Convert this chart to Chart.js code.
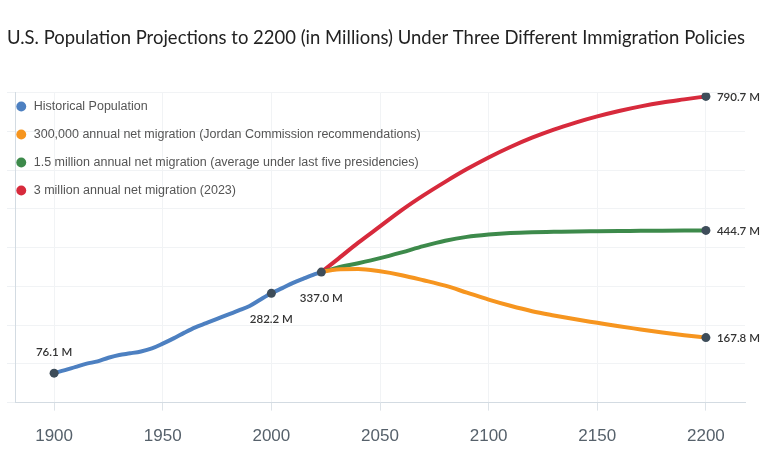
<!DOCTYPE html>
<html>
<head>
<meta charset="utf-8">
<script src="https://cdn.jsdelivr.net/npm/chart.js@4"></script>
<style>
  html, body { margin: 0; padding: 0; background: #fff; }
  #wrap { width: 768px; height: 467px; }
</style>
</head>
<body>
<div id="wrap"><canvas id="popChart"></canvas></div>
<script>
// values (millions)
var histYears  = [1900, 1905, 1910, 1915, 1920, 1925, 1930, 1935, 1940, 1945, 1950, 1955, 1960,
                  1965, 1970, 1975, 1980, 1985, 1990, 1995, 2000, 2005, 2010, 2015, 2020, 2023];
var histValues = [76.1, 83.8, 92.4, 100.5, 106.5, 115.8, 123.1, 127.3, 132.1, 139.9, 152.3, 165.9, 180.7,
                  194.3, 205.1, 216.0, 227.2, 237.9, 249.6, 266.3, 282.2, 295.5, 309.3, 320.7, 331.5, 337.0];

var projYears  = [2023, 2030, 2040, 2050, 2060, 2070, 2080, 2090, 2100, 2110, 2120, 2130, 2140,
                  2150, 2160, 2170, 2180, 2190, 2200];
var lowValues  = [337.0, 344, 345, 339, 329, 316, 302, 284, 266, 250, 236, 225, 215,
                  206, 197, 189, 181, 174, 167.8];
var midValues  = [337.0, 348, 360, 373, 388, 404, 418, 428, 434, 438, 440, 441, 442,
                  442.5, 443, 443.5, 444, 444.4, 444.7];
var highValues = [337.0, 368, 413, 455, 497, 535, 570, 603, 633, 660, 684, 705, 723,
                  739, 753, 765, 775, 783, 790.7];

var tickYears = [1900, 1950, 2000, 2050, 2100, 2150, 2200];
var seriesNames = [
  'Historical Population',
  '300,000 annual net migration (Jordan Commission recommendations)',
  '1.5 million annual net migration (average under last five presidencies)',
  '3 million annual net migration (2023)'
];
var seriesColors = ['#4d80c1', '#f6951f', '#3d8a4b', '#d72a3c'];
var dotColor = '#3e4d5a';

// which points get a dot + value label
var histMarked = [1900, 2000, 2023];
var labelSpots = [
  { ds: 0, year: 1900, pos: 'above' },
  { ds: 0, year: 2000, pos: 'below' },
  { ds: 0, year: 2023, pos: 'below' },
  { ds: 1, year: 2200, pos: 'right' },
  { ds: 2, year: 2200, pos: 'right' },
  { ds: 3, year: 2200, pos: 'right' }
];

function pairs(xs, ys) {
  return xs.map(function (x, i) { return { x: x, y: ys[i] }; });
}

function makeSet(idx, xs, ys, marked) {
  return {
    label: seriesNames[idx],
    data: pairs(xs, ys),
    borderColor: seriesColors[idx],
    backgroundColor: seriesColors[idx],
    borderWidth: 4,
    cubicInterpolationMode: 'monotone',
    pointStyle: 'circle',
    pointRadius: function (ctx) {
      var p = ctx.raw;
      return p && marked.indexOf(p.x) >= 0 ? 4.5 : 0;
    },
    pointHoverRadius: 0,
    pointBackgroundColor: dotColor,
    pointBorderColor: dotColor,
    pointBorderWidth: 0
  };
}

var valueLabels = {
  id: 'valueLabels',
  afterDatasetsDraw: function (chart) {
    var ctx = chart.ctx;
    ctx.save();
    ctx.font = '600 11.5px Lato';
    ctx.fillStyle = '#333';
    labelSpots.forEach(function (s) {
      var meta = chart.getDatasetMeta(s.ds);
      var data = chart.data.datasets[s.ds].data;
      var i = data.findIndex(function (p) { return p.x === s.year; });
      var el = meta.data[i];
      var txt = data[i].y.toFixed(1) + ' M';
      if (s.pos === 'right') {
        ctx.textAlign = 'left'; ctx.textBaseline = 'middle';
        ctx.fillText(txt, el.x + 11, el.y + 1);
      } else if (s.pos === 'above') {
        ctx.textAlign = 'center'; ctx.textBaseline = 'middle';
        ctx.fillText(txt, el.x, el.y - 21);
      } else {
        ctx.textAlign = 'center'; ctx.textBaseline = 'middle';
        ctx.fillText(txt, el.x, el.y + 26);
      }
    });
    ctx.restore();
  }
};

// legend sits inside the plot, nudged up/left like the original
var legendNudge = {
  id: 'legendNudge',
  afterLayout: function (chart) {
    var lg = chart.legend;
    lg.left = chart.chartArea.left - 15.5;
    lg.right = lg.left + lg.width;
    lg.top = chart.chartArea.top - 8;
    lg.bottom = lg.top + lg.height;
  }
};

new Chart(document.getElementById('popChart'), {
  type: 'line',
  data: {
    datasets: [
      makeSet(0, histYears, histValues, histMarked),
      makeSet(1, projYears, lowValues, [2200]),
      makeSet(2, projYears, midValues, [2200]),
      makeSet(3, projYears, highValues, [2200])
    ]
  },
  options: {
    responsive: true,
    maintainAspectRatio: false,
    animation: false,
    layout: { padding: { left: 7, right: 23, top: 0, bottom: 4 } },
    plugins: {
      title: {
        display: true,
        align: 'start',
        text: 'U.S. Population Projections to 2200 (in Millions) Under Three Different Immigration Policies',
        color: '#222',
        font: { family: 'Lato', size: 19, weight: 'normal' },
        padding: { top: 26, bottom: 44 }
      },
      legend: {
        position: 'chartArea',
        align: 'start',
        labels: {
          usePointStyle: true,
          pointStyle: 'circle',
          boxWidth: 13,
          boxHeight: 7,
          padding: 15.5,
          color: '#555',
          font: { family: 'Liberation Sans', size: 12.5 },
          generateLabels: function (chart) {
            var items = Chart.defaults.plugins.legend.labels.generateLabels(chart);
            items.forEach(function (it) {
              it.fillStyle = seriesColors[it.datasetIndex];
              it.strokeStyle = seriesColors[it.datasetIndex];
              it.lineWidth = 0;
              it.pointStyle = 'circle';
            });
            return items;
          }
        }
      },
      tooltip: { enabled: false }
    },
    scales: {
      x: {
        type: 'linear',
        min: 1882,
        max: 2218,
        afterBuildTicks: function (scale) {
          scale.ticks = tickYears.map(function (v) { return { value: v }; });
        },
        grid: { color: '#f1f3f5', tickLength: 8, tickColor: '#dde3e8' },
        border: { color: '#d3dbe2' },
        ticks: {
          color: '#56616b',
          font: { family: 'Liberation Sans', size: 17 },
          padding: 16,
          callback: function (v) { return String(v); }
        }
      },
      y: {
        min: 0,
        max: 800,
        grid: { color: '#f1f3f5', tickLength: 8, tickColor: '#eef1f4' },
        border: { color: '#d3dbe2' },
        ticks: { display: false, stepSize: 100 }
      }
    }
  },
  plugins: [valueLabels, legendNudge]
});
</script>
</body>
</html>
